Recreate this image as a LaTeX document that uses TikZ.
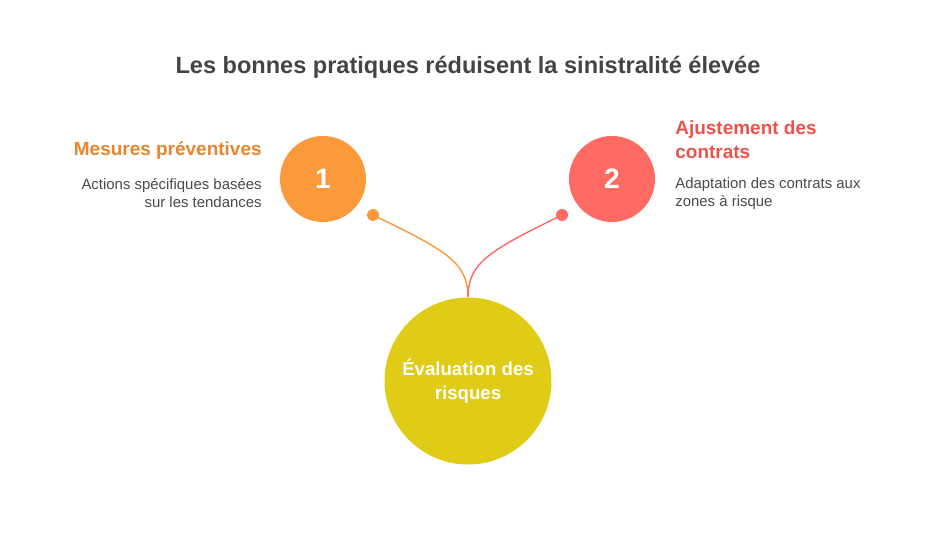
\documentclass[tikz,border=0pt]{standalone}
\usepackage{fontspec}
\setmainfont{Liberation Sans}
\usepackage{xcolor}
\usetikzlibrary{positioning}

\definecolor{titlegray}{HTML}{444444}
\definecolor{textgray}{HTML}{4A4A4A}
\definecolor{orangefill}{HTML}{FA9A3B}
\definecolor{orangetext}{HTML}{E8852F}
\definecolor{redfill}{HTML}{FF6A62}
\definecolor{redtext}{HTML}{EA534B}
\definecolor{yellowfill}{HTML}{E0CB16}

\tikzset{
    stepcircle/.style={circle, minimum size=1.72cm, inner sep=0pt, text=white, font=\fontsize{16}{16}\selectfont\bfseries},
    dotnode/.style={circle, minimum size=0.24cm, inner sep=0pt},
    headtext/.style={font=\fontsize{10.8}{13.6}\selectfont\bfseries, inner sep=0pt},
    desctext/.style={font=\fontsize{8.5}{10.2}\selectfont, text=textgray, inner sep=0pt},
    link/.style={line width=0.8pt}
}

\begin{document}
\begin{tikzpicture}[x=0.02cm, y=-0.02cm]
    \useasboundingbox[fill=white] (0,0) rectangle (936,540);

    % Title
    \node[font=\fontsize{13.4}{15}\selectfont\bfseries, text=titlegray] (title) at (468,67) {Les bonnes pratiques réduisent la sinistralité élevée};

    % Nodes
    \node[stepcircle, fill=orangefill] (one) at (323,179) {1};
    \node[stepcircle, fill=redfill] (two) at (612,179) {2};
    \node[circle, fill=yellowfill, minimum size=3.34cm, inner sep=0pt, text=white, align=center, font=\fontsize{10.6}{13.6}\selectfont\bfseries] (eval) at (468,381) {Évaluation des\\risques};
    \node[dotnode, fill=orangefill] (dotone) at (373,215) {};
    \node[dotnode, fill=redfill] (dottwo) at (562,215) {};

    % Texts
    \node[headtext, text=orangetext, anchor=east] (mesures) at (262,151) {Mesures préventives};
    \node[desctext, align=right, below=0.36cm of mesures.south east, anchor=north east] (actions) {Actions spécifiques basées\\sur les tendances};
    \node[headtext, text=redtext, anchor=south west, align=left] (ajust) at (675,159) {Ajustement des\\contrats};
    \node[desctext, anchor=north west, align=left] (adapt) at (675,177) {Adaptation des contrats aux\\zones à risque};

    % Edges
    \draw[link, orangefill] (dotone.center) .. controls (445,250) and (468,262) .. (eval.north);
    \draw[link, redfill] (dottwo.center) .. controls (491,250) and (468,262) .. (eval.north);
\end{tikzpicture}
\end{document}
